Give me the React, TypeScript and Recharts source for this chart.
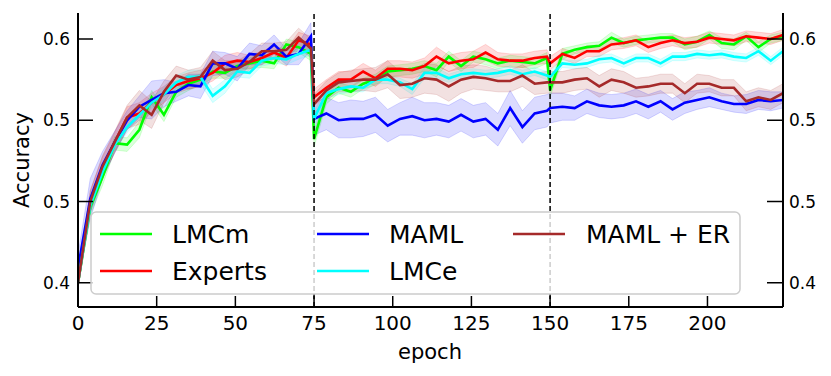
import React from 'react';
import { ComposedChart, Line, Area, XAxis, YAxis, ReferenceLine } from 'recharts';

// epochs: three phases of 75 epochs, 20 evaluations each
const phaseSteps = [0, 3.9, 7.8, 11.7, 15.6, 19.5, 23.4, 27.3, 31.2, 35.1, 38.9, 42.8, 46.7, 50.6, 54.5, 58.4, 62.3, 66.2, 70.1, 74];
const phaseStarts = [0, 75, 150];
const epochs = phaseStarts.flatMap((s) => phaseSteps.map((d) => +(s + d).toFixed(1)));

const xTicks = [0, 25, 50, 75, 100, 125, 150, 175, 200];
const yTicks = [0.42, 0.48, 0.54, 0.6];
const yTickLabels = ['0.4', '0.5', '0.5', '0.6'];
const phaseBoundaries = [75, 150];

const lmcm = [
  0.420, 0.476, 0.498, 0.523, 0.522, 0.533, 0.557, 0.544, 0.561, 0.567, 0.570, 0.576, 0.575, 0.580, 0.582, 0.584, 0.582, 0.596, 0.594, 0.589,
  0.526, 0.557, 0.564, 0.561, 0.567, 0.570, 0.576, 0.577, 0.578, 0.580, 0.577, 0.587, 0.580, 0.587, 0.585, 0.582, 0.584, 0.583, 0.582, 0.586,
  0.562, 0.589, 0.592, 0.594, 0.595, 0.601, 0.597, 0.599, 0.600, 0.601, 0.601, 0.596, 0.598, 0.603, 0.597, 0.596, 0.602, 0.594, 0.600, 0.602,
];
const experts = [
  0.420, 0.480, 0.505, 0.524, 0.542, 0.545, 0.553, 0.559, 0.566, 0.569, 0.571, 0.575, 0.582, 0.584, 0.583, 0.586, 0.590, 0.586, 0.599, 0.596,
  0.557, 0.564, 0.570, 0.570, 0.576, 0.571, 0.578, 0.578, 0.577, 0.580, 0.587, 0.582, 0.584, 0.585, 0.590, 0.585, 0.584, 0.584, 0.586, 0.587,
  0.582, 0.589, 0.586, 0.591, 0.591, 0.596, 0.597, 0.599, 0.594, 0.597, 0.599, 0.597, 0.598, 0.601, 0.600, 0.599, 0.602, 0.601, 0.600, 0.603,
];
const maml = [
  0.431, 0.482, 0.507, 0.524, 0.540, 0.550, 0.555, 0.560, 0.561, 0.566, 0.565, 0.582, 0.582, 0.578, 0.589, 0.588, 0.596, 0.587, 0.589, 0.602,
  0.541, 0.545, 0.540, 0.541, 0.541, 0.544, 0.536, 0.541, 0.543, 0.540, 0.541, 0.539, 0.544, 0.539, 0.541, 0.533, 0.549, 0.535, 0.545, 0.547,
  0.549, 0.550, 0.549, 0.554, 0.551, 0.550, 0.551, 0.554, 0.550, 0.554, 0.548, 0.553, 0.555, 0.557, 0.554, 0.552, 0.552, 0.555, 0.554, 0.555,
];
const lmce = [
  0.420, 0.477, 0.502, 0.522, 0.535, 0.544, 0.553, 0.559, 0.568, 0.572, 0.572, 0.558, 0.565, 0.576, 0.575, 0.584, 0.586, 0.585, 0.589, 0.592,
  0.541, 0.560, 0.563, 0.565, 0.564, 0.570, 0.570, 0.568, 0.563, 0.575, 0.575, 0.571, 0.574, 0.575, 0.574, 0.575, 0.577, 0.574, 0.576, 0.573,
  0.572, 0.582, 0.581, 0.582, 0.585, 0.586, 0.582, 0.586, 0.586, 0.582, 0.587, 0.587, 0.589, 0.588, 0.589, 0.587, 0.586, 0.591, 0.584, 0.591,
];
const mamlEr = [
  0.420, 0.480, 0.506, 0.524, 0.542, 0.551, 0.544, 0.561, 0.573, 0.570, 0.572, 0.584, 0.577, 0.578, 0.583, 0.591, 0.591, 0.592, 0.601, 0.593,
  0.552, 0.562, 0.568, 0.569, 0.570, 0.570, 0.574, 0.566, 0.567, 0.571, 0.570, 0.565, 0.570, 0.572, 0.571, 0.569, 0.569, 0.573, 0.567, 0.568,
  0.568, 0.568, 0.570, 0.571, 0.565, 0.570, 0.568, 0.564, 0.565, 0.567, 0.567, 0.560, 0.567, 0.567, 0.564, 0.564, 0.554, 0.557, 0.555, 0.560,
];

// half-widths of the shaded bands
const lmcmSpread = [
  0.004, 0.006, 0.006, 0.005, 0.005, 0.006, 0.005, 0.005, 0.004, 0.005, 0.004, 0.005, 0.004, 0.004, 0.004, 0.005, 0.004, 0.004, 0.004, 0.005,
  0.006, 0.005, 0.004, 0.004, 0.004, 0.004, 0.004, 0.004, 0.004, 0.004, 0.005, 0.004, 0.004, 0.004, 0.004, 0.004, 0.004, 0.004, 0.004, 0.004,
  0.005, 0.004, 0.003, 0.003, 0.003, 0.004, 0.003, 0.003, 0.003, 0.003, 0.003, 0.004, 0.004, 0.003, 0.004, 0.004, 0.003, 0.004, 0.003, 0.003,
];
const expertsSpread = [
  0.004, 0.008, 0.008, 0.007, 0.008, 0.008, 0.007, 0.006, 0.006, 0.006, 0.006, 0.006, 0.006, 0.006, 0.005, 0.005, 0.005, 0.006, 0.006, 0.006,
  0.006, 0.006, 0.006, 0.006, 0.006, 0.006, 0.006, 0.006, 0.006, 0.006, 0.007, 0.006, 0.006, 0.006, 0.006, 0.005, 0.005, 0.005, 0.005, 0.005,
  0.005, 0.004, 0.004, 0.004, 0.004, 0.004, 0.004, 0.004, 0.004, 0.004, 0.004, 0.004, 0.004, 0.004, 0.004, 0.004, 0.004, 0.004, 0.004, 0.004,
];
const mamlSpread = [
  0.010, 0.015, 0.010, 0.008, 0.007, 0.008, 0.014, 0.010, 0.007, 0.008, 0.009, 0.009, 0.008, 0.009, 0.008, 0.007, 0.007, 0.006, 0.008, 0.010,
  0.012, 0.012, 0.013, 0.014, 0.013, 0.013, 0.012, 0.012, 0.014, 0.013, 0.012, 0.012, 0.012, 0.012, 0.012, 0.012, 0.013, 0.012, 0.012, 0.012,
  0.011, 0.010, 0.009, 0.009, 0.009, 0.009, 0.009, 0.009, 0.009, 0.008, 0.008, 0.008, 0.007, 0.007, 0.006, 0.006, 0.007, 0.007, 0.007, 0.006,
];
const lmceSpread = [
  0.004, 0.005, 0.005, 0.004, 0.004, 0.004, 0.004, 0.005, 0.005, 0.005, 0.005, 0.005, 0.005, 0.004, 0.004, 0.004, 0.004, 0.004, 0.004, 0.004,
  0.005, 0.004, 0.004, 0.004, 0.003, 0.003, 0.003, 0.003, 0.004, 0.004, 0.004, 0.003, 0.003, 0.003, 0.003, 0.003, 0.003, 0.003, 0.003, 0.003,
  0.004, 0.003, 0.003, 0.003, 0.003, 0.003, 0.003, 0.003, 0.003, 0.003, 0.003, 0.003, 0.003, 0.003, 0.003, 0.003, 0.003, 0.003, 0.003, 0.003,
];
const mamlErSpread = [
  0.004, 0.008, 0.008, 0.008, 0.009, 0.011, 0.010, 0.008, 0.007, 0.007, 0.007, 0.007, 0.007, 0.006, 0.006, 0.006, 0.006, 0.006, 0.007, 0.007,
  0.007, 0.007, 0.007, 0.008, 0.008, 0.009, 0.010, 0.010, 0.010, 0.011, 0.011, 0.011, 0.010, 0.009, 0.009, 0.008, 0.008, 0.008, 0.008, 0.008,
  0.008, 0.008, 0.008, 0.008, 0.008, 0.008, 0.008, 0.007, 0.007, 0.007, 0.007, 0.007, 0.007, 0.006, 0.006, 0.006, 0.007, 0.007, 0.007, 0.007,
];

const series = [
  { key: 'lmcm', name: 'LMCm', color: '#00ff00', values: lmcm, spread: lmcmSpread },
  { key: 'experts', name: 'Experts', color: '#ff0000', values: experts, spread: expertsSpread },
  { key: 'maml', name: 'MAML', color: '#0000ff', values: maml, spread: mamlSpread },
  { key: 'lmce', name: 'LMCe', color: '#00ffff', values: lmce, spread: lmceSpread },
  { key: 'mamlEr', name: 'MAML + ER', color: '#a52a2a', values: mamlEr, spread: mamlErSpread },
];

const data = epochs.map((epoch, i) => {
  const row: Record<string, any> = { epoch };
  series.forEach((s) => {
    row[s.key] = s.values[i];
    row[s.key + 'Band'] = [s.values[i] - s.spread[i], s.values[i] + s.spread[i]];
  });
  return row;
});

const FONT = 'DejaVu Sans';
const W = 831;
const H = 376;

const LeftTick = (props: any) => {
  const { x, y, payload } = props;
  const label = yTickLabels[yTicks.indexOf(payload.value)];
  return (
    <g>
      <line x1={x} x2={x + 15} y1={y} y2={y} stroke="#000" strokeWidth={1.5} />
      <text x={x - 8} y={y} textAnchor="end" dominantBaseline="central" fontSize={17} fontFamily={FONT} fill="#000">
        {label}
      </text>
    </g>
  );
};

const RightTick = (props: any) => {
  const { x, y, payload } = props;
  const label = yTickLabels[yTicks.indexOf(payload.value)];
  return (
    <g>
      <line x1={x - 16} x2={x} y1={y} y2={y} stroke="#000" strokeWidth={1.5} />
      <text x={x + 6} y={y} textAnchor="start" dominantBaseline="central" fontSize={17} fontFamily={FONT} fill="#000">
        {label}
      </text>
    </g>
  );
};

const BottomTick = (props: any) => {
  const { x, y, payload } = props;
  return (
    <g>
      <line x1={x} x2={x} y1={y - 11} y2={y} stroke="#000" strokeWidth={1.5} />
      <text x={x} y={y + 16} textAnchor="middle" dominantBaseline="central" fontSize={20} fontFamily={FONT} fill="#000">
        {payload.value}
      </text>
    </g>
  );
};

const legendItems = [
  { s: 0, lx: 100, tx: 172, y: 234 },
  { s: 1, lx: 100, tx: 172, y: 271 },
  { s: 2, lx: 317, tx: 389, y: 234 },
  { s: 3, lx: 317, tx: 389, y: 271 },
  { s: 4, lx: 513, tx: 586, y: 234 },
];

export default function App() {
  const yDomain = [0.4021, 0.6192];
  return (
    <div style={{ position: 'absolute', left: 0, top: 0, width: W, height: H, background: '#fff' }}>
      <ComposedChart width={W} height={H} data={data} margin={{ top: 13, right: 0, bottom: 0, left: 0 }}>
        <XAxis
          dataKey="epoch"
          type="number"
          domain={[0, 224]}
          ticks={xTicks}
          interval={0}
          height={69}
          tickSize={0}
          tickMargin={0}
          tickLine={false}
          tick={<BottomTick />}
          axisLine={{ stroke: '#000', strokeWidth: 2 }}
          allowDataOverflow
        />
        <XAxis
          xAxisId="top"
          orientation="top"
          dataKey="epoch"
          type="number"
          domain={[0, 224]}
          height={0}
          tick={false}
          tickLine={false}
          axisLine={{ stroke: '#000', strokeWidth: 2 }}
        />
        <YAxis
          yAxisId="left"
          type="number"
          domain={yDomain}
          ticks={yTicks}
          interval={0}
          width={78}
          tickSize={0}
          tickMargin={0}
          tickLine={false}
          tick={<LeftTick />}
          axisLine={{ stroke: '#000', strokeWidth: 2 }}
          allowDataOverflow
        />
        <YAxis
          yAxisId="right"
          orientation="right"
          type="number"
          domain={yDomain}
          ticks={yTicks}
          interval={0}
          width={48}
          tickSize={0}
          tickMargin={0}
          tickLine={false}
          tick={<RightTick />}
          axisLine={{ stroke: '#000', strokeWidth: 2 }}
          allowDataOverflow
        />
        {series.map((s) => (
          <Area
            key={s.key + 'Band'}
            yAxisId="left"
            type="linear"
            dataKey={s.key + 'Band'}
            stroke={s.color}
            strokeOpacity={0.15}
            strokeWidth={1}
            fill={s.color}
            fillOpacity={0.14}
            isAnimationActive={false}
            dot={false}
            activeDot={false}
            legendType="none"
          />
        ))}
        {series.map((s) => (
          <Line
            key={s.key}
            yAxisId="left"
            type="linear"
            dataKey={s.key}
            name={s.name}
            stroke={s.color}
            strokeWidth={2.6}
            dot={false}
            activeDot={false}
            isAnimationActive={false}
          />
        ))}
        {phaseBoundaries.map((b) => (
          <ReferenceLine key={b} yAxisId="left" x={b} stroke="#000" strokeWidth={1.5} strokeDasharray="5 3" />
        ))}
      </ComposedChart>
      <svg width={W} height={H} style={{ position: 'absolute', left: 0, top: 0, pointerEvents: 'none' }}>
        <text
          x={22}
          y={160}
          transform="rotate(-90 22 160)"
          textAnchor="middle"
          dominantBaseline="central"
          fontSize={21}
          fontFamily={FONT}
          fill="#000"
        >
          Accuracy
        </text>
        <text x={430} y={352} textAnchor="middle" dominantBaseline="central" fontSize={21} fontFamily={FONT} fill="#000">
          epoch
        </text>
        <rect x={91} y={212} width={649} height={82} rx={5} ry={5} fill="#fff" fillOpacity={0.8} stroke="#cccccc" strokeWidth={1.5} />
        {legendItems.map((it) => (
          <g key={it.s}>
            <line x1={it.lx} x2={it.lx + 52} y1={it.y} y2={it.y} stroke={series[it.s].color} strokeWidth={2.6} />
            <text x={it.tx} y={it.y} dominantBaseline="central" fontSize={25} fontFamily={FONT} fill="#000">
              {series[it.s].name}
            </text>
          </g>
        ))}
      </svg>
    </div>
  );
}
